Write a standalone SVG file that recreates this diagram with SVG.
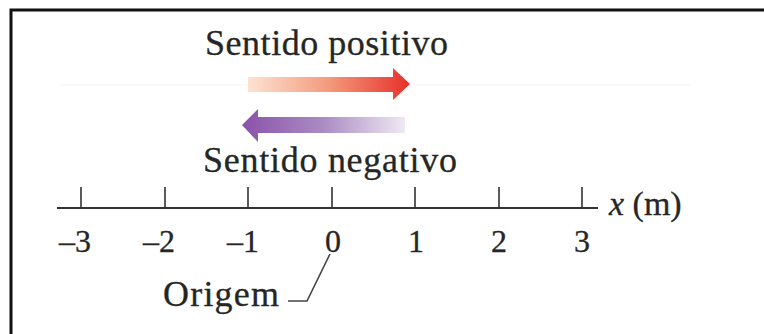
<svg xmlns="http://www.w3.org/2000/svg" width="764" height="334" viewBox="0 0 764 334">
  <defs>
    <linearGradient id="gradPos" x1="248" y1="0" x2="410" y2="0" gradientUnits="userSpaceOnUse">
      <stop offset="0" stop-color="#fde3d3"/>
      <stop offset="0.5" stop-color="#f39a7c"/>
      <stop offset="1" stop-color="#e8302a"/>
    </linearGradient>
    <linearGradient id="gradNeg" x1="242" y1="0" x2="405" y2="0" gradientUnits="userSpaceOnUse">
      <stop offset="0" stop-color="#8a52aa"/>
      <stop offset="0.5" stop-color="#ab8cc4"/>
      <stop offset="1" stop-color="#eee9f4"/>
    </linearGradient>
    <style>
      .t { font-family: "Liberation Serif", "DejaVu Serif", serif; fill: #262626; stroke: #262626; stroke-width: 0.3; }
      .lbl { font-size: 36px; }
      .num { font-size: 32px; text-anchor: middle; }
      .ax { stroke: #333; stroke-width: 2; fill: none; }
      .tick { stroke: #333; stroke-width: 1.6; }
      .lead { stroke: #444; stroke-width: 1.6; fill: none; }
    </style>
  </defs>
  <rect width="764" height="334" fill="#ffffff"/>
  <path d="M11,334 V10 H764" fill="none" stroke="#111" stroke-width="3"/>
  <line x1="60" y1="85" x2="690" y2="85" stroke="#f4f4f4" stroke-width="1"/>

  <g id="label-positivo">
    <text class="t lbl" x="205" y="55" textLength="243" lengthAdjust="spacing">Sentido positivo</text>
  </g>
  <g id="arrow-positivo">
    <path d="M248,77 H393 V68 L410,84 L393,100 V92 H248 Z" fill="url(#gradPos)"/>
  </g>
  <g id="arrow-negativo">
    <path d="M405,117 H258 V109 L242,125 L258,142 V133 H405 Z" fill="url(#gradNeg)"/>
  </g>
  <g id="label-negativo">
    <text class="t lbl" x="203" y="172" textLength="254" lengthAdjust="spacing">Sentido negativo</text>
  </g>

  <g id="axis">
    <line class="ax" x1="57" y1="208" x2="598" y2="208"/>
    <g class="tick">
      <line x1="81" y1="187" x2="81" y2="208"/>
      <line x1="165" y1="187" x2="165" y2="208"/>
      <line x1="248" y1="187" x2="248" y2="208"/>
      <line x1="332" y1="187" x2="332" y2="208"/>
      <line x1="415" y1="187" x2="415" y2="208"/>
      <line x1="499" y1="187" x2="499" y2="208"/>
      <line x1="582" y1="187" x2="582" y2="208"/>
    </g>
    <text class="t" x="609" y="215" font-size="34"><tspan font-style="italic">x</tspan> (m)</text>
  </g>
  <g id="ticklabels">
    <text class="t num" x="75" y="252">–3</text>
    <text class="t num" x="159" y="252">–2</text>
    <text class="t num" x="243" y="252">–1</text>
    <text class="t num" x="333" y="252">0</text>
    <text class="t num" x="416" y="252">1</text>
    <text class="t num" x="499" y="252">2</text>
    <text class="t num" x="582" y="252">3</text>
  </g>
  <g id="label-origem">
    <text class="t lbl" x="163" y="306" textLength="116" lengthAdjust="spacing">Origem</text>
  </g>
  <g id="connectors">
    <path class="lead" d="M330,254 L307,301 H288"/>
  </g>
</svg>
